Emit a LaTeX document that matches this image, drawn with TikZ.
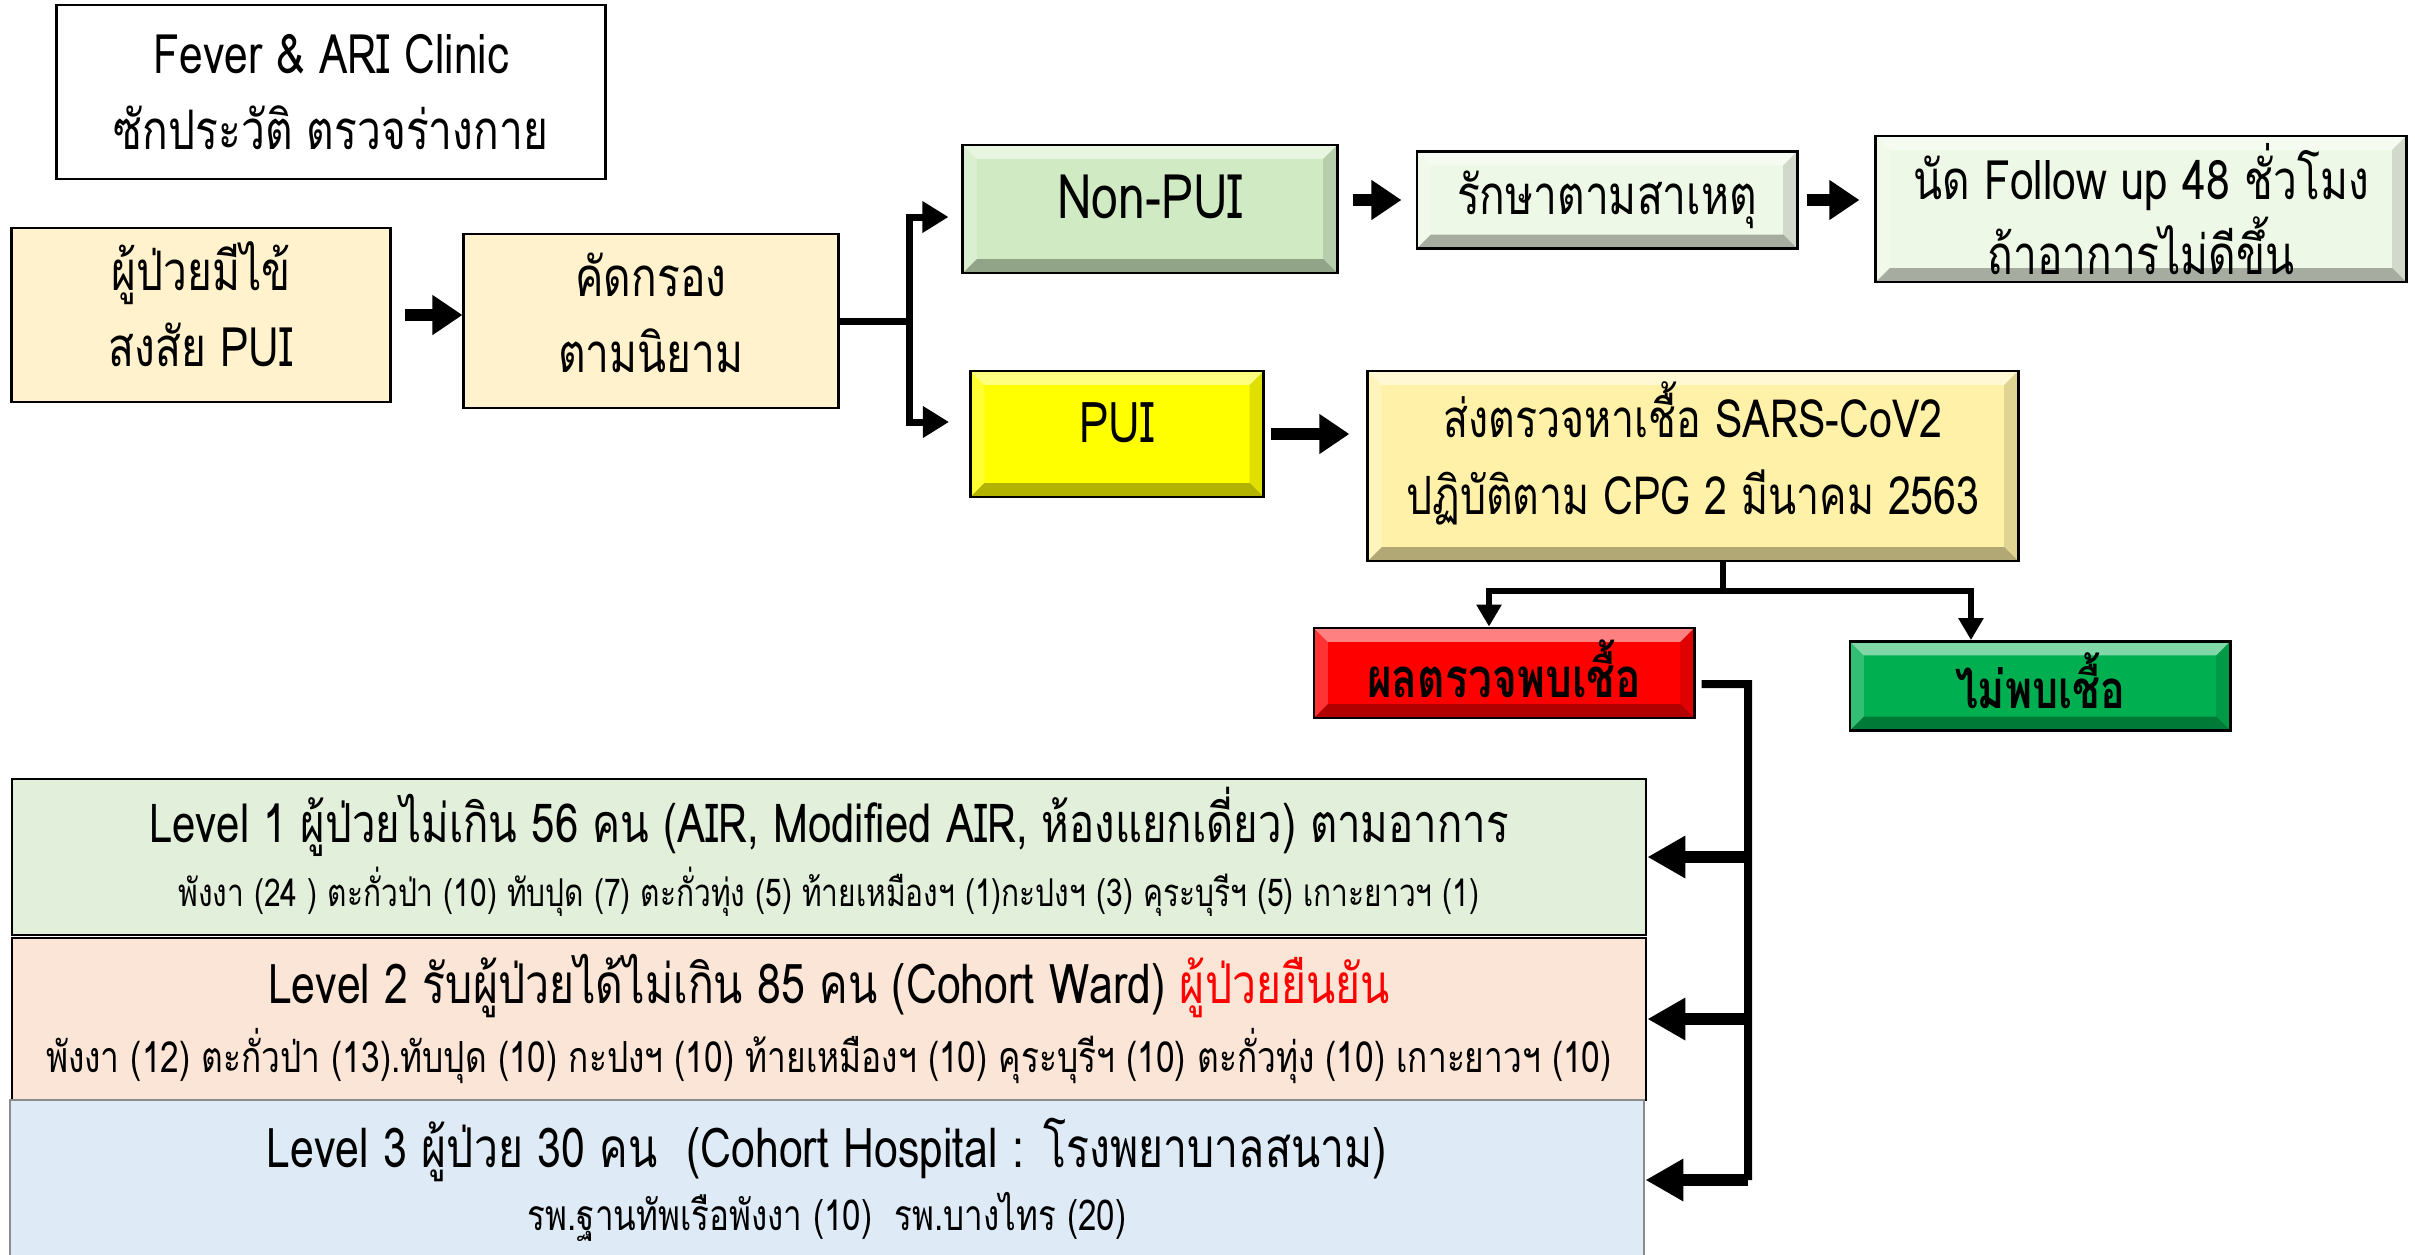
\documentclass[tikz,border=0pt]{standalone}
\usepackage{fontspec}
\setmainfont{Loma}[Script=Thai, FakeStretch=0.78]
\usetikzlibrary{arrows.meta}

\definecolor{cream}{HTML}{FFF2CC}
\definecolor{leaf}{HTML}{D0EBC4}
\definecolor{mint}{HTML}{EEF8E6}
\definecolor{lemon}{HTML}{FFFF00}
\definecolor{butter}{HTML}{FFF2A8}
\definecolor{alarm}{HTML}{FF0000}
\definecolor{clear}{HTML}{00B050}
\definecolor{lvone}{HTML}{E2EFDA}
\definecolor{lvtwo}{HTML}{FBE5D6}
\definecolor{lvthree}{HTML}{DEEBF7}

\begin{document}
\begin{tikzpicture}[x = 0.01cm, y = -0.01cm,
	box/.style = {draw, line width = 0.8pt, align = center, inner sep = 0pt, font = \fontsize{15.5}{21.5}\selectfont},
	bevel/.style = {path picture = {
		\fill [white, opacity = 0.5] (path picture bounding box.north west) -- (path picture bounding box.north east) -- ([shift = {(-0.14cm, -0.14cm)}] path picture bounding box.north east) -- ([shift = {(0.14cm, -0.14cm)}] path picture bounding box.north west) -- cycle;
		\fill [black, opacity = 0.3] (path picture bounding box.south west) -- (path picture bounding box.south east) -- ([shift = {(-0.14cm, 0.14cm)}] path picture bounding box.south east) -- ([shift = {(0.14cm, 0.14cm)}] path picture bounding box.south west) -- cycle;
		\fill [black, opacity = 0.12] (path picture bounding box.north east) -- (path picture bounding box.south east) -- ([shift = {(-0.14cm, 0.14cm)}] path picture bounding box.south east) -- ([shift = {(-0.14cm, -0.14cm)}] path picture bounding box.north east) -- cycle;
		\fill [white, opacity = 0.2] (path picture bounding box.north west) -- (path picture bounding box.south west) -- ([shift = {(0.14cm, 0.14cm)}] path picture bounding box.south west) -- ([shift = {(0.14cm, -0.14cm)}] path picture bounding box.north west) -- cycle;
	}},
	fatarrow/.style = {-{Triangle[length = 0.3cm, width = 0.38cm]}, line width = 0.12cm},
	fork/.style = {line width = 0.07cm},
	forktip/.style = {fork, -{Triangle[length = 0.26cm, width = 0.3cm]}},
	drop/.style = {line width = 0.06cm},
	droptip/.style = {drop, -{Triangle[length = 0.22cm, width = 0.24cm]}},
	trunk/.style = {line width = 0.08cm},
	levelarrow/.style = {-{Triangle[length = 0.38cm, width = 0.4cm]}, line width = 0.12cm},
	level/.style = {draw, line width = 0.8pt, align = center, inner sep = 0pt, minimum width = 16.33cm}]

	\useasboundingbox (0, 0) rectangle (2415, 1254);

	% Clinic and screening
	
	\node [box, minimum width = 5.48cm, minimum height = 1.74cm] (clinic) at (331, 92) {Fever \& ARI Clinic\\ซักประวัติ ตรวจร่างกาย};
	\node [box, fill = cream, minimum width = 3.78cm, minimum height = 1.74cm, text depth = 0.22cm] (patient) at (201, 315) {ผู้ป่วยมีไข้\\สงสัย PUI};
	\node [box, fill = cream, minimum width = 3.74cm, minimum height = 1.74cm, text depth = 0.16cm] (screen) at (651, 321) {คัดกรอง\\ตามนิยาม};
	
	\draw [fatarrow, shorten <= 0.13cm] (patient) -- (patient -| screen.west);

	% Non-PUI row
	
	\node [box, bevel, fill = leaf, minimum width = 3.74cm, minimum height = 1.28cm, text depth = 0.24cm, font = \fontsize{17.5}{21}\selectfont] (nonpui) at (1150, 209) {Non-PUI};
	\node [box, bevel, fill = mint, minimum width = 3.8cm, minimum height = 0.97cm] (treat) at (1607, 200) {รักษาตามสาเหตุ};
	\node [box, bevel, fill = mint, minimum width = 5.3cm, minimum height = 1.46cm] (follow) at (2141, 209) {นัด Follow up 48 ชั่วโมง\\ถ้าอาการไม่ดีขึ้น};
	
	\draw [fatarrow, shorten <= 0.14cm, shorten >= 0.14cm] (treat -| nonpui.east) -- (treat.west);
	\draw [fatarrow, shorten <= 0.08cm, shorten >= 0.15cm] (treat.east) -- (treat -| follow.west);

	% PUI row
	
	\node [box, bevel, fill = lemon, minimum width = 2.93cm, minimum height = 1.26cm, text depth = 0.22cm, font = \fontsize{16}{21}\selectfont] (pui) at (1117, 434) {PUI};
	\node [box, bevel, fill = butter, minimum width = 6.5cm, minimum height = 1.9cm, text depth = 0.36cm, font = \fontsize{15}{22}\selectfont] (test) at (1693, 466) {ส่งตรวจหาเชื้อ SARS-CoV2\\ปฏิบัติตาม CPG 2 มีนาคม 2563};
	
	\draw [fatarrow, shorten <= 0.06cm, shorten >= 0.17cm] (pui) -- (pui -| test.west);
	
	% Split after screening
	
	\coordinate (split) at (909, 321);
	\draw [fork] (screen) -- (split);
	\draw [forktip, shorten >= 0.13cm] (split) |- ([yshift = -0.08cm] nonpui.west);
	\draw [forktip, shorten >= 0.2cm] (split) |- ([yshift = 0.12cm] pui.west);

	% Test results
	
	\node [box, bevel, fill = alarm, minimum width = 3.8cm, minimum height = 0.9cm, text depth = 0.08cm, font = \fontsize{15.5}{21}\selectfont\bfseries] (pos) at (1504, 673) {ผลตรวจพบเชื้อ};
	\node [box, bevel, fill = clear, minimum width = 3.8cm, minimum height = 0.89cm, text depth = 0.1cm, font = \fontsize{15}{21}\selectfont\bfseries] (neg) at (2040, 686) {ไม่พบเชื้อ};
	
	\coordinate (result) at (1723, 591);
	\draw [drop] (test.south -| result) -- (result);
	\draw [droptip] (result) -| ([xshift = -0.15cm] pos.north);
	\draw [droptip] (result) -| ([xshift = -0.69cm] neg.north);

	% Care levels
	
	\node [level, fill = lvone, minimum height = 1.56cm, text depth = 0.21cm] (lv1) at (829, 857)
		{{\fontsize{15.3}{21}\selectfont Level 1 ผู้ป่วยไม่เกิน 56 คน (AIR, Modified AIR, ห้องแยกเดี่ยว) ตามอาการ}\\[2pt]
		{\fontsize{10.9}{16}\selectfont พังงา (24 ) ตะกั่วป่า (10) ทับปุด (7) ตะกั่วทุ่ง (5) ท้ายเหมืองฯ (1)กะปงฯ (3) คุระบุรีฯ (5) เกาะยาวฯ (1)}};
	\node [level, fill = lvtwo, minimum height = 1.62cm] (lv2) at (829, 1019)
		{{\fontsize{15.6}{21}\selectfont Level 2 รับผู้ป่วยได้ไม่เกิน 85 คน (Cohort Ward) \textcolor{red}{ผู้ป่วยยืนยัน}}\\[2pt]
		{\fontsize{12.2}{18}\selectfont พังงา (12) ตะกั่วป่า (13).ทับปุด (10) กะปงฯ (10) ท้ายเหมืองฯ (10) คุระบุรีฯ (10) ตะกั่วทุ่ง (10) เกาะยาวฯ (10)}};
	\node [level, draw = black!45, fill = lvthree, minimum height = 1.6cm] (lv3) at (827, 1180)
		{{\fontsize{15.6}{21}\selectfont Level 3 ผู้ป่วย 30 คน\ \ (Cohort Hospital : โรงพยาบาลสนาม)}\\[2pt]
		{\fontsize{12.1}{17}\selectfont รพ.ฐานทัพเรือพังงา (10)\ \ รพ.บางไทร (20)}};
	
	\coordinate (bend) at (1748, 684);
	\draw [trunk] ([xshift = 0.06cm, yshift = -0.11cm] pos.east) -- (bend) -- (bend |- lv3.east);
	\foreach \lv in {lv1, lv2, lv3}
		\draw [levelarrow] (bend |- \lv.east) -- (\lv.east);
	
\end{tikzpicture}
\end{document}
